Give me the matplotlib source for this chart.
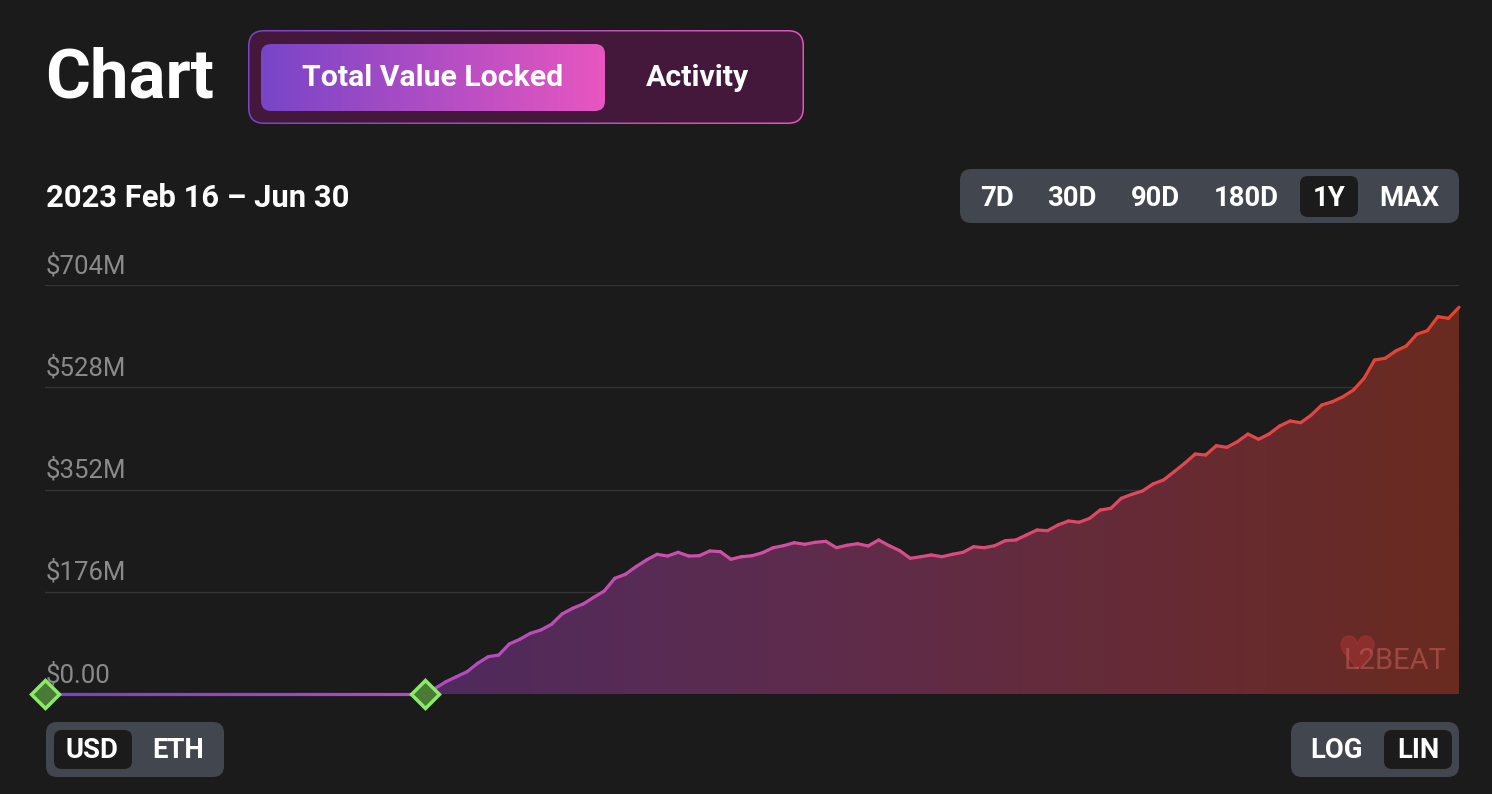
import numpy as np
import pandas as pd
import matplotlib
matplotlib.use('Agg')
import matplotlib.pyplot as plt
import matplotlib.dates as mdates
from matplotlib.collections import LineCollection
from matplotlib.colors import LinearSegmentedColormap
from matplotlib.patches import FancyBboxPatch, Polygon

plt.rcParams['font.family'] = ['Roboto', 'DejaVu Sans']

# ---------------- data ----------------
start_date = '2023-02-16'
end_date = '2023-06-30'
tvl_before_launch = [0.0] * 36          # Feb 16 .. Mar 23 (no TVL)
tvl_after_launch = [
    0.0, 10.0, 21.2, 29.8, 38.4, 52.8, 64.2, 67.1, 86.1, 94.2,
    104.5, 110.2, 120.0, 137.7, 147.5, 154.9, 166.4, 177.3, 199.2, 206.0,
    219.1, 230.7, 240.5, 237.5, 243.9, 237.5, 238.0, 246.2, 245.0, 231.9,
    236.3, 238.0, 243.2, 251.8, 255.3, 260.4, 257.7, 261.1, 262.8, 251.8,
    256.0, 258.7, 254.8, 265.1, 255.3, 246.7, 233.6, 236.3, 239.3, 236.3,
    240.5, 243.9, 253.5, 251.8, 255.3, 263.9, 265.1, 273.7, 282.3, 281.1,
    290.9, 297.8, 295.6, 302.4, 316.7, 319.6, 336.9, 343.7, 349.4, 361.5,
    368.4, 382.6, 397.1, 413.1, 411.4, 427.4, 424.6, 434.3, 447.5, 438.4,
    447.5, 461.3, 469.9, 467.0, 480.2, 497.5, 503.1, 511.7, 523.3, 543.4,
    574.9, 577.8, 590.4, 599.0, 619.2, 625.4, 649.5, 646.7, 665.6,
]  # millions USD, Mar 24 .. Jun 30
tvl_musd = tvl_before_launch + tvl_after_launch
event_dates = ['2023-02-16', '2023-03-24']
y_ticks = [0, 176, 352, 528, 704]
y_tick_labels = ['$0.00', '$176M', '$352M', '$528M', '$704M']
range_options = ['7D', '30D', '90D', '180D', '1Y', 'MAX']
selected_range = '1Y'
unit_options = ['USD', 'ETH']
scale_options = ['LOG', 'LIN']

dates = pd.date_range(start_date, end_date, freq='D')
x = mdates.date2num(dates)
y = np.array(tvl_musd)

# ---------------- figure ----------------
W, H = 1492, 794
BG = '#1b1b1b'
fig = plt.figure(figsize=(W / 100, H / 100), dpi=100, facecolor=BG)

ax = fig.add_axes([45 / W, (H - 694) / H, 1414 / W, 409 / H])
ax.set_facecolor('none')
for s in ax.spines.values():
    s.set_visible(False)
ax.set_xticks([])
ax.set_yticks([])

for t, lab in zip(y_ticks, y_tick_labels):
    if t > 0:
        ax.axhline(t, color='#343434', lw=1.0, zorder=0)
    ax.annotate(lab, xy=(0, t), xycoords=('axes fraction', 'data'),
                xytext=(0.5, 5), textcoords='offset points', ha='left', va='bottom',
                color='#8a8a8a', fontsize=18.5)

# area gradient fill
fill_cmap = LinearSegmentedColormap.from_list(
    'fill', [(0.0, '#4a2a62'), (0.27, '#4f2a5e'), (0.55, '#5e2c4c'),
             (0.75, '#652b38'), (1.0, '#6a2a20')])
grad = fill_cmap(np.linspace(0, 1, 512))[None, :, :]
im = ax.imshow(grad, extent=[x[0], x[-1], 0, 704], aspect='auto', zorder=1,
               interpolation='bilinear')
verts = np.column_stack([np.r_[x, x[::-1]], np.r_[y, np.zeros_like(y)]])
clip = Polygon(verts, closed=True, facecolor='none', edgecolor='none',
               transform=ax.transData)
ax.add_patch(clip)
im.set_clip_path(clip)

# gradient line
line_cmap = LinearSegmentedColormap.from_list(
    'line', [(0.0, '#7b40c8'), (0.27, '#b24bc4'), (0.5, '#d24fa8'),
             (0.75, '#e0485f'), (1.0, '#e5442e')])
pts = np.column_stack([x, y])
segs = np.stack([pts[:-1], pts[1:]], axis=1)
frac = (0.5 * (x[:-1] + x[1:]) - x[0]) / (x[-1] - x[0])
lc = LineCollection(segs, colors=line_cmap(frac), linewidths=2.3, zorder=3,
                    capstyle='round', joinstyle='round', clip_on=False)
ax.add_collection(lc)

ex = mdates.date2num(pd.to_datetime(event_dates))
ax.plot(ex, [0] * len(ex), linestyle='none', marker='D', markersize=14,
        markerfacecolor='#4a7a36', markeredgecolor='#86ee62', markeredgewidth=2.5,
        zorder=6, clip_on=False)

ax.set_xlim(x[0], x[-1])
ax.set_ylim(0, 704)

# ---------------- overlay UI ----------------
ov = fig.add_axes([0, 0, 1, 1], zorder=5)
ov.set_xlim(0, W)
ov.set_ylim(H, 0)
ov.axis('off')
ov.patch.set_alpha(0)


def rbox(x0, y0, x1, y1, r, fc, z=1):
    p = FancyBboxPatch((x0 + r, y0 + r), (x1 - x0 - 2 * r), (y1 - y0 - 2 * r),
                       boxstyle=f'round,pad={r}', facecolor=fc, edgecolor='none',
                       zorder=z)
    ov.add_patch(p)
    return p


def gradbox(x0, y0, x1, y1, r, c0, c1, z=1):
    p = rbox(x0, y0, x1, y1, r, 'none', z)
    cm = LinearSegmentedColormap.from_list('g', [c0, c1])
    g = cm(np.linspace(0, 1, 256))[None, :, :]
    imb = ov.imshow(g, extent=[x0, x1, y1, y0], aspect='auto', zorder=z,
                    interpolation='bilinear')
    imb.set_clip_path(p)
    return p


# header
ov.text(45, 79, 'Chart', color='white', fontsize=49.5, fontweight='bold',
        ha='left', va='center')
gradbox(248, 30, 804, 124, 16, '#7a45c8', '#e855c0', z=1)
rbox(249.5, 31.5, 802.5, 122.5, 14.5, '#43183a', z=2)
gradbox(261, 44, 605, 111, 10, '#7845c8', '#e856c0', z=3)
ov.text(433, 78, 'Total Value Locked', color='white', fontsize=21.8,
        fontweight='bold', ha='center', va='center', zorder=4)
ov.text(697, 78, 'Activity', color='white', fontsize=21.8, fontweight='bold',
        ha='center', va='center', zorder=4)

ov.text(46, 198, '2023 Feb 16 \u2013 Jun 30', color='white', fontsize=22.2,
        fontweight='bold', ha='left', va='center')

# range selector
rbox(960, 169, 1459, 223, 11, '#41464f')
range_centers = [997, 1072, 1155, 1246, 1329, 1409]
for lab, cx in zip(range_options, range_centers):
    if lab == selected_range:
        rbox(cx - 29, 176, cx + 29, 217, 8, BG, z=2)
    ov.text(cx, 198, lab, color='white', fontsize=19.8, fontweight='bold',
            ha='center', va='center', zorder=3)

# unit selector
rbox(46, 722, 224, 777, 11, '#41464f')
rbox(54, 730, 132, 769, 8, BG, z=2)
for lab, cx in zip(unit_options, [92, 178]):
    ov.text(cx, 751, lab, color='white', fontsize=19.8, fontweight='bold',
            ha='center', va='center', zorder=3)

# scale selector
rbox(1291, 722, 1459, 777, 11, '#41464f')
rbox(1384, 730, 1452, 769, 8, BG, z=2)
for lab, cx in zip(scale_options, [1337, 1418]):
    ov.text(cx, 751, lab, color='white', fontsize=19.8, fontweight='bold',
            ha='center', va='center', zorder=3)

# watermark (filled heart drawn as a marker, text on top)
ov.plot([1357], [652], marker='$\u2665$', markersize=24, color='#a83434',
        alpha=0.55, linestyle='none', zorder=2)
ov.text(1395, 661, 'L2BEAT', color='#c8605a', alpha=0.55, fontsize=21,
        ha='center', va='center', zorder=3)

fig.savefig('out.png', dpi=100, facecolor=BG)
